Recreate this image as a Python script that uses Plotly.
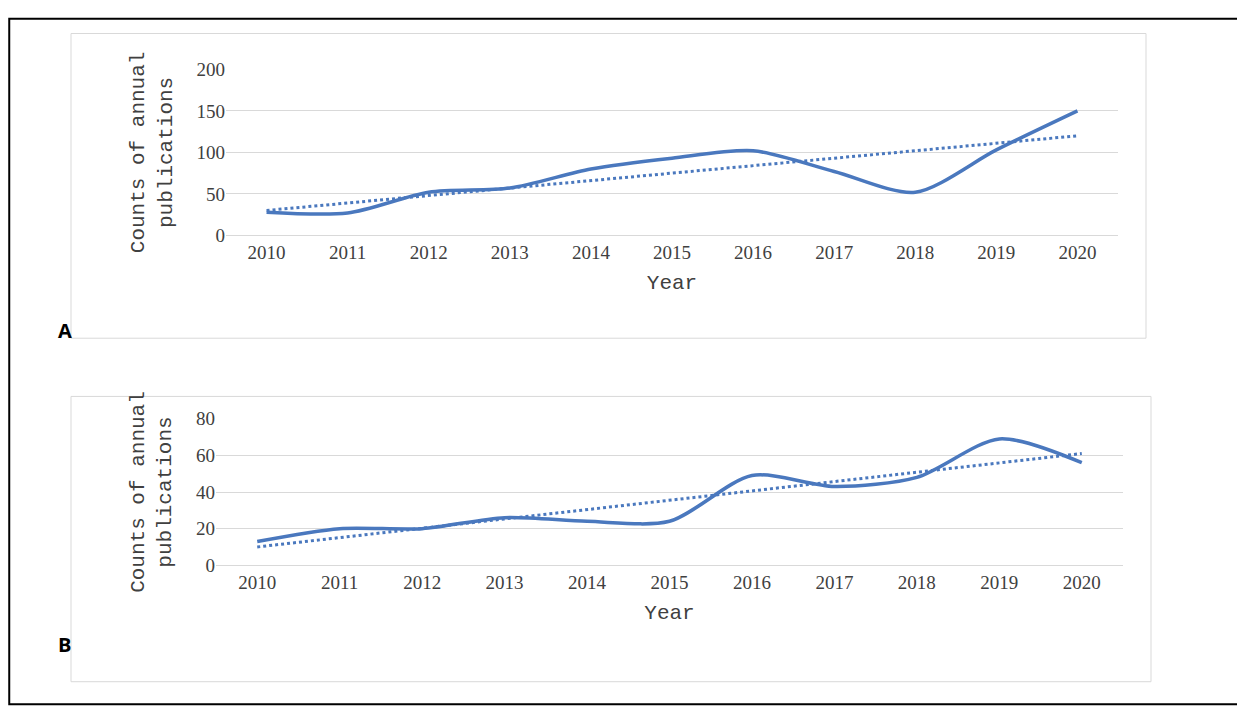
import plotly.graph_objects as go

years = [str(y) for y in range(2010, 2021)]
a_vals = [28, 27, 52, 57, 80, 93, 102, 77, 52, 103, 150]
a_trend = [30, 120]
b_vals = [13, 20, 20, 26, 24, 24, 49, 43, 48, 69, 56]
b_trend = [10, 61]

W, H = 1245, 708
blue = "#4a78be"
fig = go.Figure()
for vals, trend, ax in [(a_vals, a_trend, ""), (b_vals, b_trend, "2")]:
    fig.add_trace(go.Scatter(x=years, y=vals, mode="lines", line=dict(color=blue, width=3.5, shape="spline", smoothing=0.8),
                             xaxis="x" + ax, yaxis="y" + ax, showlegend=False))
    fig.add_trace(go.Scatter(x=[years[0], years[-1]], y=trend, mode="lines", line=dict(color=blue, width=3, dash="dot"),
                             xaxis="x" + ax, yaxis="y" + ax, showlegend=False))

font = dict(family="Liberation Serif, DejaVu Serif", size=19, color="#404040")
tfont = dict(family="Liberation Mono, DejaVu Sans Mono", size=21, color="#404040")
def xa(d, anchor):
    return dict(domain=d, anchor=anchor, type="category", range=[-0.5, 10.5], showgrid=False, showline=True,
                linecolor="#d9d9d9", tickfont=font, title=dict(text="Year", font=tfont, standoff=12), ticks="")
def ya(d, anchor, rng, dt):
    return dict(domain=d, anchor=anchor, range=rng, dtick=dt, showgrid=True, gridcolor="#d9d9d9", zeroline=False,
                tickfont=font, title=dict(text="Counts of annual<br>publications", font=tfont, standoff=18), ticks="")

fig.update_layout(
    width=W, height=H, margin=dict(l=0, r=0, t=0, b=0), paper_bgcolor="white", plot_bgcolor="white",
    xaxis=xa([218/W, 1110/W], "y"), yaxis=ya([1-224/H, 1-53/H], "x", [0, 200], 50),
    xaxis2=xa([208/W, 1115/W], "y2"), yaxis2=ya([1-564/H, 1-413/H], "x2", [0, 80], 20),
    shapes=[
        dict(type="rect", xref="paper", yref="paper", x0=0.001, x1=0.999, y0=0.001, y1=0.999, line=dict(color="black", width=2)),
        dict(type="rect", xref="paper", yref="paper", x0=63/W, x1=1138/W, y0=1-330/H, y1=1-16/H, line=dict(color="#d9d9d9", width=1)),
        dict(type="rect", xref="paper", yref="paper", x0=63/W, x1=1143/W, y0=1-684/H, y1=1-390/H, line=dict(color="#d9d9d9", width=1)),
    ],
    annotations=[
        dict(text="<b>A</b>", x=48/W, y=1-322/H, xref="paper", yref="paper", showarrow=False, font=dict(family="Open Sans", size=20, color="black")),
        dict(text="<b>B</b>", x=48/W, y=1-662/H, xref="paper", yref="paper", showarrow=False, font=dict(family="Open Sans", size=20, color="black")),
    ],
)
fig.write_html("out.html")
